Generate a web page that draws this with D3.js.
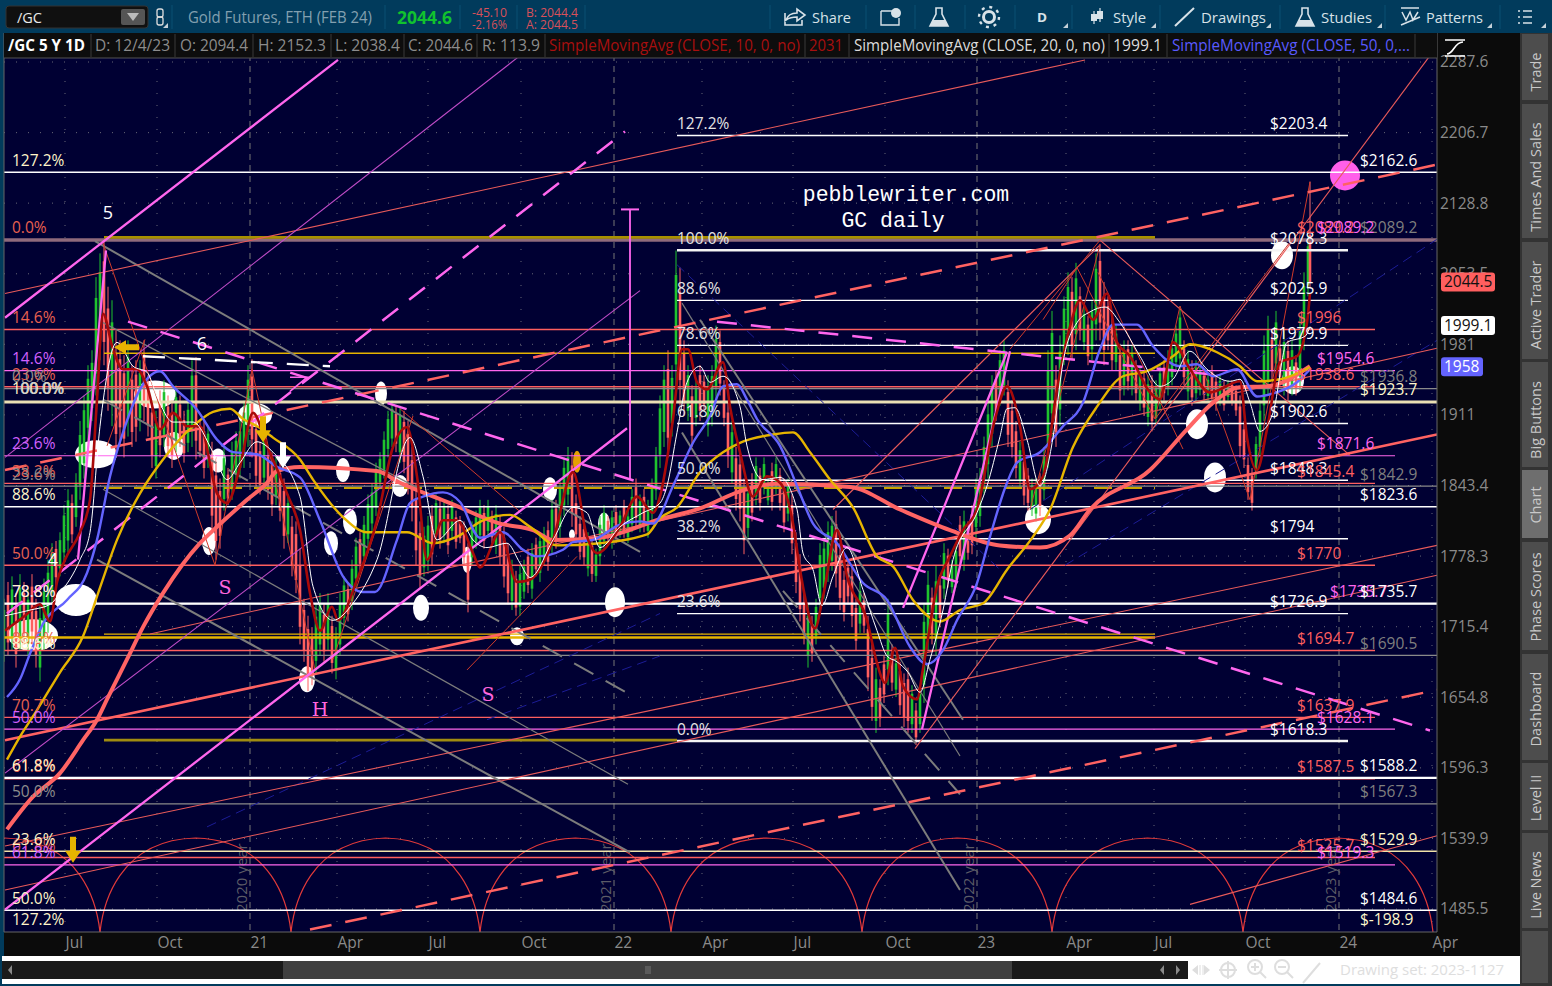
<!DOCTYPE html>
<html><head><meta charset="utf-8">
<style>html,body{margin:0;padding:0;background:#013b5c;overflow:hidden}svg{display:block}text{font-family:"Open Sans",sans-serif}</style>
<script src="https://cdn.jsdelivr.net/npm/d3@7"></script>
</head><body><svg id="c" width="1552" height="986"></svg>
<script>
// ---------- axis values ----------
const priceTicks=[2287.6,2206.7,2128.8,2053.5,1981,1911,1843.4,1778.3,1715.4,1654.8,1596.3,1539.9,1485.5];
const timeTicks=[0,92,185,272,363,456,549,637,728,820,912,1001,1089,1180,1274,1367];
const timeLabels=["Jul","Oct","21","Apr","Jul","Oct","22","Apr","Jul","Oct","23","Apr","Jul","Oct","24","Apr"];
const yearLines=[185,549,912,1274];
const yearNames=["2020 year","2021 year","2022 year","2023 year"];
const cycleFeet=[-156,35,226,415,606,797,987,1178,1368];

// ---------- daily range bars: [low, high, up] stepping 4 sessions ----------
const bars2020=[[1685,1740,1],[1690,1755,0],[1695,1760,1],[1680,1745,0],[1695,1762,1],[1700,1755,0],[1690,1750,1],[1700,1762,0],[1680,1740,0],[1668,1735,1],[1695,1758,1],[1710,1775,1],[1735,1790,1],[1752,1792,0],[1760,1800,1],[1772,1825,1],[1782,1840,1],[1790,1835,0],[1805,1855,1],[1830,1905,1],[1850,1930,1],[1885,1960,1],[1905,1975,1],[1930,2050,1],[1965,2075,1],[1960,2090,0],[1915,2040,0],[1900,2026,1],[1870,1995,0],[1880,1985,0],[1870,1970,0],[1890,1985,1],[1880,1960,0],[1885,1965,0],[1895,1965,1],[1905,1985,0],[1890,1950,0],[1860,1925,0],[1850,1915,1],[1870,1935,0],[1880,1945,1],[1870,1930,0],[1860,1925,0],[1875,1940,1],[1880,1930,0],[1865,1915,0],[1875,1925,1],[1880,1965,1],[1868,1968,0],[1870,1905,0],[1850,1905,0],[1860,1900,1],[1800,1885,0],[1775,1870,0],[1785,1850,0],[1820,1880,1],[1825,1860,0],[1830,1885,1],[1845,1895,1],[1850,1905,1],[1860,1925,1],[1880,1960,1]];
const bars2021=[[1870,1966,0],[1840,1910,0],[1835,1885,0],[1840,1900,1],[1830,1880,0],[1815,1875,0],[1825,1870,1],[1810,1865,0],[1785,1850,0],[1790,1835,1],[1760,1815,0],[1745,1810,0],[1700,1785,0],[1685,1740,0],[1660,1725,0],[1665,1715,0],[1675,1735,1],[1690,1745,1],[1685,1735,0],[1695,1745,1],[1675,1725,0],[1670,1715,1],[1690,1745,1],[1715,1760,1],[1720,1755,0],[1730,1775,1],[1750,1795,1],[1765,1800,0],[1770,1815,1],[1785,1835,1],[1800,1845,1],[1815,1865,1],[1840,1875,1],[1850,1895,1],[1870,1915,1],[1880,1925,1],[1875,1920,0],[1865,1920,1],[1855,1915,0],[1835,1905,0],[1810,1880,0],[1770,1845,0],[1750,1810,0],[1760,1805,1],[1765,1815,1],[1770,1825,0],[1790,1835,1],[1785,1830,0],[1790,1830,1],[1780,1825,0],[1795,1830,1],[1785,1820,0],[1790,1815,0],[1770,1810,0],[1728,1790,0],[1770,1810,1],[1785,1820,1],[1790,1830,1],[1785,1825,0],[1795,1830,1],[1790,1820,0],[1780,1825,1],[1770,1815,0],[1750,1805,0],[1735,1790,0],[1730,1775,1],[1725,1765,0],[1725,1770,1],[1740,1775,1],[1745,1785,0],[1740,1790,1],[1760,1795,0],[1755,1800,1],[1770,1805,1],[1765,1810,0],[1780,1830,1],[1785,1830,0],[1795,1850,1],[1815,1870,1],[1825,1880,1],[1805,1875,0],[1790,1835,0],[1775,1815,0],[1770,1810,0],[1760,1800,1],[1755,1795,0],[1755,1785,1],[1770,1815,1],[1785,1825,1],[1790,1815,0],[1785,1820,1]];
const bars2022=[[1790,1825,0],[1795,1820,1],[1795,1830,0],[1790,1820,1],[1800,1840,1],[1805,1850,0],[1800,1835,1],[1800,1840,0],[1795,1830,1],[1810,1850,1],[1830,1880,1],[1860,1930,1],[1880,1960,1],[1870,1975,0],[1890,1960,1],[1935,2078,1],[1920,2060,0],[1910,1985,0],[1905,1960,1],[1880,1940,0],[1900,1945,1],[1905,1960,0],[1915,1950,0],[1890,1950,1],[1900,1960,1],[1925,2000,1],[1930,1995,0],[1900,1945,0],[1860,1925,0],[1845,1905,1],[1820,1880,0],[1810,1875,0],[1780,1850,0],[1795,1845,1],[1810,1855,0],[1825,1870,1],[1820,1860,0],[1835,1870,1],[1825,1850,1],[1820,1865,0],[1835,1870,1],[1820,1860,0],[1800,1850,0],[1810,1850,1],[1780,1835,0],[1745,1800,0],[1720,1780,0],[1700,1745,0],[1680,1735,1],[1685,1725,0],[1700,1740,1],[1730,1790,1],[1740,1795,1],[1755,1810,1],[1765,1815,1],[1750,1820,0],[1730,1790,0],[1720,1765,0],[1735,1775,0],[1715,1770,0],[1695,1740,0],[1710,1755,1],[1710,1745,0],[1660,1725,0],[1635,1700,0],[1625,1680,1],[1630,1670,0],[1650,1690,0],[1665,1740,1],[1660,1700,0],[1655,1690,1],[1640,1685,0],[1630,1675,0],[1625,1680,0],[1625,1665,1],[1615,1650,0],[1625,1665,1],[1650,1735,1],[1695,1765,1],[1700,1750,0],[1690,1770,1],[1715,1760,0],[1740,1790,1],[1750,1785,0],[1745,1775,1],[1750,1790,1],[1770,1815,0],[1765,1820,1],[1775,1810,0],[1780,1825,0],[1795,1850,1],[1805,1860,1]];
const bars2023=[[1835,1890,1],[1850,1925,1],[1880,1950,1],[1905,1955,0],[1920,1975,1],[1930,1985,1],[1880,1945,0],[1870,1925,0],[1850,1905,0],[1840,1885,1],[1825,1875,0],[1820,1860,0],[1815,1850,1],[1810,1850,1],[1815,1855,0],[1830,1880,1],[1860,1975,1],[1890,2015,1],[1880,1960,0],[1900,1990,1],[1960,2030,1],[1970,2055,1],[1965,2050,0],[1975,2065,1],[1985,2040,0],[1975,2020,1],[1960,2010,0],[1965,2025,1],[1985,2075,1],[1985,2085,0],[1960,2045,0],[1975,2030,0],[1955,2010,0],[1955,2000,1],[1925,1980,0],[1930,1985,1],[1935,1985,0],[1930,1980,1],[1925,1965,0],[1915,1960,1],[1910,1955,0],[1900,1950,1],[1895,1950,0],[1900,1945,1],[1915,1960,1],[1925,1965,0],[1930,1975,1],[1940,1985,1],[1955,2000,1],[1955,2020,1],[1940,1985,0],[1925,1975,1],[1920,1965,0],[1925,1965,1],[1930,1960,1],[1925,1955,0],[1925,1950,1],[1920,1960,0],[1915,1950,0],[1920,1950,1],[1915,1945,0],[1925,1945,1],[1920,1945,0],[1910,1940,0],[1870,1930,0],[1860,1905,0],[1830,1870,0],[1820,1860,0],[1850,1890,1],[1870,1925,1],[1905,1990,1],[1930,2010,1],[1945,1995,0],[1950,2015,1],[1940,1985,0],[1930,1995,1],[1925,1985,0],[1930,1985,1],[1930,1970,0],[1935,2010,1],[1975,2055,1],[2030,2094,1]];
const barBlockStart=[-61,187,551,919];
const lastCandle=[1245,2094.4,2152.3,2038.4,2044.6];

// ---------- moving averages: [session, price] ----------
const sma10=[[-60,1712],[-40,1725],[-25,1735],[-15,1720],[-8,1755],[0,1775],[15,1800],[25,1830],[32,1926],[38,2012],[48,1976],[58,1956],[72,1956],[82,1939],[95,1897],[108,1913],[122,1900],[135,1900],[152,1836],[162,1827],[175,1861],[188,1913],[202,1881],[222,1836],[235,1802],[245,1745],[255,1712],[267,1733],[273,1721],[292,1757],[312,1811],[328,1880],[342,1899],[352,1852],[362,1775],[378,1811],[392,1811],[408,1781],[415,1768],[435,1800],[452,1755],[465,1757],[488,1793],[508,1856],[522,1796],[532,1781],[555,1805],[572,1833],[588,1818],[595,1833],[608,1907],[617,1976],[623,1976],[632,1943],[642,1936],[658,1963],[665,1919],[675,1875],[688,1833],[702,1852],[715,1846],[728,1808],[735,1766],[750,1714],[758,1742],[772,1802],[782,1760],[802,1721],[812,1684],[820,1667],[830,1697],[838,1664],[852,1653],[858,1679],[872,1751],[885,1778],[898,1802],[912,1821],[930,1907],[942,1939],[955,1900],[965,1840],[978,1852],[992,1936],[1005,1999],[1015,2026],[1028,2006],[1042,2033],[1052,1983],[1065,1969],[1085,1933],[1095,1926],[1108,1983],[1125,1956],[1145,1933],[1175,1944],[1182,1889],[1192,1858],[1202,1897],[1215,1963],[1232,1969],[1242,2003],[1245,2033]];
const sma20=[[-60,1725],[-35,1730],[-15,1735],[-5,1745],[15,1775],[25,1800],[35,1900],[52,1983],[68,1959],[82,1953],[92,1929],[108,1904],[128,1904],[148,1875],[162,1849],[175,1865],[192,1885],[208,1875],[235,1833],[248,1751],[268,1721],[288,1736],[312,1775],[345,1889],[358,1852],[372,1793],[395,1811],[408,1793],[422,1786],[442,1790],[455,1772],[465,1759],[488,1793],[508,1823],[522,1818],[535,1786],[555,1805],[578,1818],[595,1827],[602,1843],[612,1894],[622,1943],[635,1959],[645,1943],[658,1949],[675,1919],[682,1881],[698,1849],[715,1851],[732,1821],[738,1781],[748,1766],[757,1734],[768,1760],[782,1786],[798,1748],[812,1712],[822,1690],[832,1685],[843,1676],[855,1659],[865,1687],[878,1730],[888,1775],[912,1818],[922,1843],[935,1890],[942,1917],[950,1918],[962,1887],[975,1843],[988,1889],[998,1963],[1012,2003],[1025,2014],[1040,2019],[1055,2003],[1075,1969],[1095,1939],[1108,1946],[1125,1974],[1142,1956],[1165,1944],[1175,1946],[1185,1923],[1195,1895],[1208,1913],[1222,1983],[1240,1989],[1245,1999]];
const sma50=[[-58,1655],[-45,1670],[-35,1692],[-22,1718],[2,1739],[22,1763],[32,1793],[45,1852],[58,1894],[75,1936],[95,1954],[108,1939],[132,1916],[152,1887],[168,1875],[192,1873],[212,1861],[235,1851],[255,1811],[278,1760],[298,1746],[310,1746],[332,1793],[345,1827],[358,1833],[378,1837],[395,1828],[415,1795],[438,1800],[458,1784],[472,1778],[498,1784],[508,1791],[528,1793],[555,1807],[575,1810],[588,1808],[608,1843],[628,1884],[645,1910],[658,1939],[672,1941],[682,1926],[692,1907],[715,1881],[732,1843],[748,1808],[772,1790],[798,1754],[822,1739],[845,1698],[862,1683],[878,1695],[892,1721],[912,1754],[925,1796],[942,1846],[952,1865],[975,1875],[998,1900],[1018,1923],[1035,1976],[1048,2001],[1072,2001],[1088,1979],[1115,1959],[1132,1961],[1148,1949],[1172,1956],[1192,1929],[1208,1932],[1232,1943],[1245,1956]];
const sma100=[[-58,1603],[-45,1622],[-28,1644],[-5,1676],[18,1707],[35,1750],[52,1793],[75,1836],[98,1868],[128,1900],[148,1914],[165,1917],[178,1907],[192,1900],[208,1889],[235,1868],[248,1849],[278,1814],[302,1800],[342,1800],[368,1790],[392,1796],[418,1811],[445,1816],[465,1805],[492,1788],[535,1790],[582,1798],[595,1813],[612,1823],[635,1856],[658,1875],[675,1884],[708,1892],[728,1894],[745,1875],[765,1849],[788,1823],[812,1778],[828,1769],[848,1739],[875,1720],[895,1730],[918,1736],[942,1766],[968,1796],[985,1821],[1008,1880],[1032,1919],[1058,1949],[1082,1954],[1108,1969],[1125,1981],[1152,1973],[1175,1959],[1192,1944],[1215,1946],[1245,1958]];
const sma200=[[-58,1547],[-32,1573],[-5,1592],[18,1619],[32,1636],[42,1653],[62,1687],[78,1715],[98,1745],[135,1790],[152,1805],[182,1830],[202,1846],[212,1857],[235,1861],[312,1857],[335,1846],[385,1827],[435,1808],[468,1802],[488,1793],[535,1795],[595,1812],[635,1822],[675,1838],[710,1845],[785,1842],[835,1821],[885,1802],[935,1788],[975,1786],[1005,1797],[1025,1821],[1085,1858],[1122,1897],[1148,1923],[1175,1938],[1202,1939],[1245,1959]];

// ---------- price levels ----------
const centerFib=[2203.4,2078.3,2025.9,1979.9,1902.6,1848.3,1794,1726.9,1618.3];
const centerPct=["127.2%","100.0%","88.6%","78.6%","61.8%","50.0%","38.2%","23.6%","0.0%"];
const centerCost=["$2203.4","$2078.3","$2025.9","$1979.9","$1902.6","$1848.3","$1794","$1726.9","$1618.3"];
const redLevels=[1996,1938.6,1845.4,1770,1694.7,1637.9,1587.5,1525];
const redText=["$1996","$1938.6","$1845.4","$1770","$1694.7","$1637.9","$1587.5","$1525.7"];
const pinkLevels=[1954.6,1871.6,1628.1,1519.3];
const pinkText=["$1954.6","$1871.6","$1628.1","$1519.3"];
const greyLevels=[2089.2,1936.8,1842.9,1690.5,1567.3];
const greyText=["$2089.2","$1936.8","$1842.9","$1690.5","$1567.3"];
const whiteLevels=[2162.6,1823.6,1735.7,1588.2,1484.6];
const whiteText=["$2162.6","$1823.6","$1735.7","$1588.2","$1484.6"];
const goldThin=[1972,1709];
const paleGold=1529.9;
const goldThick=1706, oliveTop=2092, oliveLow=1619, goldDash=1841, creamLevel=1923.7, mauveLevel=2089.2;
const pctWhite=[[2162.6,"127.2%"],[1823.6,"88.6%"],[1735.7,"78.8%"],[1690.5,"88.6%"],[1588.2,"61.8%"],[1529.9,"23.6%"],[1484.6,"50.0%"],[1468.3,"127.2%"]];
const pctRed=[[2089.2,"0.0%"],[1996,"14.6%"],[1938.6,"23.6%"],[1845.4,"38.2%"],[1770,"50.0%"],[1694.7,"88.6%"],[1637.9,"70.7%"],[1587.5,"61.8%"],[1525,"61.8%"]];
const pctPink=[[1954.6,"14.6%"],[1871.6,"23.6%"],[1735.7,"78.8%"],[1628.1,"50.0%"],[1519.3,"61.8%"]];
const pctGrey=[[1936.8,"0.0%"],[1842.9,"23.6%"],[1567.3,"50.0%"]];

// ---------- drawn lines: [session, price] ends ----------
const pinkSolid=[[[-60,2008],[273,2290]],[[-60,1485],[562,1898]],[[13,1775],[41,2078]],[[838,1732],[942,1973]],[[857,1628],[945,1974]]];
const pinkThin=[[[-60,1870],[455,2295]],[[-60,1592],[575,2036]]];
const pinkDashed=[[[-58,1727],[560,2208]],[[63,2004],[1365,1627]],[[652,2004],[1145,1951]]];
const pinkMark=[[225,1948],[242,1948],[225,1934]];
const measure=[[565,2122],[565,1849]];
const whiteDash=[[78,1969],[265,1959]];
const greyThick=[[[30,2088],[575,1782]],[[32,1775],[565,1529]],[[635,2006],[898,1636]],[[617,1894],[895,1500]]];
const greyThin=[[[38,1840],[563,1583]],[[38,2003],[355,1840]],[[617,2023],[895,1606]]];
const greyDashed=[[[38,1926],[563,1658]],[[718,1747],[895,1575]]];
const salmonThick=[[[-60,1619],[1372,1892]]];
const salmonDashed=[[[-60,1858],[1372,2171]],[[245,1470],[1372,1661]]];
const salmonThin=[[[-60,2033],[1020,2290]],[[-60,1534],[1372,1788]],[[-60,1500],[1372,1761]],[[85,1709],[1372,1977]],[[1125,1489],[1372,1542]],[[850,1612],[1365,2295]],[[768,1821],[1035,2084]],[[1035,2089],[1285,1872]]];
const redThin=[[[38,2086],[150,1770]],[[150,1770],[187,1956]],[[42,1881],[80,1986]],[[187,1956],[250,1678]],[[268,1687],[348,1910]],[[335,1917],[455,1819]],[[402,1678],[512,1778]],[[1012,2060],[1090,1907]],[[1033,2055],[1118,1878]],[[1090,1907],[1225,2087]],[[1090,1907],[1115,2020]],[[978,2006],[1012,2060]],[[1115,2020],[1185,1830]],[[1185,1830],[1245,2152]],[[945,1976],[1035,2089]],[[965,1821],[1035,2084]]];
const blueThin=[[[612,2063],[935,1766]],[[965,1821],[1372,2090]],[[1000,1770],[1372,1985]],[[142,1549],[595,1727]],[[422,1636],[595,1690]]];

// ---------- markers ----------
const blobDay=[31,90,109,153,144,190,11,-32,278,285,266,335,316,356,402,485,550,452,242,973,1132,1150,1217,1228,539,507];
const blobPrice=[1873,1931,1881,1867,1792,1911,1739,1708,1858,1810,1790,1843,1932,1732,1775,1840,1737,1707,1670,1812,1902,1851,2073,1945,1808,1798];
const blobWide=[21,21,10,8,7,17,21,25,7,7,7,8,6,8,5,7,10,7,8,13,11,11,11,11,6,3];
const blobTall=[14,14,14,12,14,12,16,16,12,13,12,11,12,13,13,12,15,9,13,15,15,15,14,14,11,5];
const amberBlob=[512,1866];
const target=[1280,2159];
const arrowSpots=[[61,1978,"left","#e6b400"],[198,1897,"down","#e6b400"],[218,1872,"down","#ffffff"],[8,1531,"down","#e6b400"]];
const waveLabels=[[43,2112,"5","#ffffff",18],[137,1975,"6","#ffffff",18],[-12,1769,"4","#ffffff",18],[255,1639,"H","#ff66dd",19],[160,1744,"S","#ff66dd",19],[423,1652,"S","#ff66dd",19]];

// ---------- header texts ----------
const sideTabs=["Trade","Times And Sales","Active Trader","Big Buttons","Chart","Phase Scores","Dashboard","Level II","Live News",""];
const tabTops=[34,104,242,362,470,542,654,763,833,931];
const tabBottoms=[100,238,359,467,538,650,760,830,928,983];
const tabCentres=[72,177,305,420,505,597,709,798,885,955];
const headerCells=[["/GC 5 Y 1D",8,77,"#fff",1],["D: 12/4/23",95,75,"#8c8c8c"],["O: 2094.4",180,68,"#8c8c8c"],["H: 2152.3",258,68,"#8c8c8c"],["L: 2038.4",335,65,"#8c8c8c"],["C: 2044.6",408,65,"#8c8c8c"],["R: 113.9",482,58,"#8c8c8c"],["SimpleMovingAvg (CLOSE, 10, 0, no)",549,251,"#a80f0f"],["2031",809,34,"#a80f0f"],["SimpleMovingAvg (CLOSE, 20, 0, no)",854,251,"#dcdcdc"],["1999.1",1113,49,"#dcdcdc"],["SimpleMovingAvg (CLOSE, 50, 0,...",1172,238,"#5a5aff"]];
const headerSeps=[91,175,253,331,404,477,545,805,849,1109,1167,1415];

// ---------- scales ----------
const svg=d3.select("#c");
const X=d3.scaleLinear().domain([-61,1372]).range([4,1437]);
const Y=d3.scaleLog().domain([1485.5,2287.6]).range([909,62]);
const defs=svg.append("defs");
defs.append("clipPath").attr("id","pc").append("rect").attr("x",4).attr("y",33).attr("width",1433).attr("height",899);

svg.append("rect").attr("width",1552).attr("height",986).attr("fill","#013b5c");
svg.append("rect").attr("x",1437).attr("y",33).attr("width",85).attr("height",923).attr("fill","#0b0b0b");
svg.append("rect").attr("x",4).attr("y",932).attr("width",1518).attr("height",24).attr("fill","#0b0b0b");
svg.append("rect").attr("x",4).attr("y",33).attr("width",1433).attr("height",899).attr("fill","#000033");
const P=svg.append("g").attr("clip-path","url(#pc)");

// grid
P.append("g").selectAll("line").data(timeTicks).join("line").attr("x1",d=>X(d)).attr("x2",d=>X(d)).attr("y1",33).attr("y2",932)
 .attr("stroke",d=>yearLines.includes(d)?"#777":"#667").attr("stroke-width",1).attr("stroke-dasharray",d=>yearLines.includes(d)?"6 5":"1 11");
P.append("g").selectAll("line").data(priceTicks).join("line").attr("x1",4).attr("x2",1437).attr("y1",d=>Y(d)).attr("y2",d=>Y(d))
 .attr("stroke","#667").attr("stroke-dasharray","1 11");
P.append("g").selectAll("text").data(yearLines).join("text").attr("transform",(d,i)=>`translate(${X(d)-3},912) rotate(-90)`)
 .text((d,i)=>yearNames[i]).attr("font-size",15).attr("fill","#5c5c66");

// cycles
P.append("g").selectAll("path").data(d3.pairs(cycleFeet)).join("path")
 .attr("d",([a,b])=>`M${X(a)},932 C${X(a)+3},905 ${X(a)+18},840 ${(X(a)+X(b))/2},838 C${X(b)-18},840 ${X(b)-3},905 ${X(b)},932`)
 .attr("fill","none").attr("stroke","#e23a3a").attr("stroke-width",1.2);

// blobs
P.append("g").selectAll("ellipse").data(blobDay).join("ellipse").attr("cx",d=>X(d)).attr("cy",(d,i)=>Y(blobPrice[i]))
 .attr("rx",(d,i)=>blobWide[i]).attr("ry",(d,i)=>blobTall[i]).attr("fill","#ffffff");
P.append("ellipse").attr("cx",X(amberBlob[0])).attr("cy",Y(amberBlob[1])).attr("rx",4).attr("ry",11).attr("fill","#e6a000");
P.append("circle").attr("cx",X(target[0])).attr("cy",Y(target[1])).attr("r",15).attr("fill","#ff5fea");

// bars
const blocks=[bars2020,bars2021,bars2022,bars2023];
blocks.forEach((b,k)=>{
  const g=P.append("g");
  const tOf=i=>barBlockStart[k]+i*4;
  g.selectAll("line").data(b).join("line").attr("x1",(d,i)=>X(tOf(i))).attr("x2",(d,i)=>X(tOf(i)))
    .attr("y1",d=>Y(d[0])).attr("y2",d=>Y(d[1])).attr("stroke",d=>d[2]?"#1fc32e":"#ff5f5f").attr("stroke-width",1);
  g.selectAll("rect").data(b).join("rect").attr("x",(d,i)=>X(tOf(i))-1.3).attr("width",2.6)
    .attr("y",d=>Y(d[0]+(d[1]-d[0])*.82)).attr("height",d=>Y(d[0]+(d[1]-d[0])*.18)-Y(d[0]+(d[1]-d[0])*.82))
    .attr("fill",d=>d[2]?"#1fc32e":"#ff5f5f");
});
P.append("line").attr("x1",X(lastCandle[0])).attr("x2",X(lastCandle[0])).attr("y1",Y(lastCandle[2])).attr("y2",Y(lastCandle[3])).attr("stroke","#ff6f6f");
P.append("rect").attr("x",X(lastCandle[0])-1.3).attr("width",2.6).attr("y",Y(lastCandle[1])).attr("height",Y(lastCandle[4])-Y(lastCandle[1])).attr("fill","#ff5f5f");

// levels
function hl(vals,x1,x2,color,w,dash){
  P.append("g").selectAll("line").data(vals).join("line").attr("x1",x1).attr("x2",x2).attr("y1",d=>Y(d)).attr("y2",d=>Y(d))
   .attr("stroke",color).attr("stroke-width",w).attr("stroke-dasharray",dash||null);
}
hl([mauveLevel],4,1437,"#8f6a7c",3.5);
hl([oliveTop],104,1155,"#a89000",2.6);
hl([goldThick],4,1155,"#e6b400",2.6);
hl(goldThin,104,1155,"#e6b400",1.3);
hl([paleGold],4,1437,"#f0e2a8",1.4);
hl([oliveLow],104,677,"#a08c10",2.8);
hl([goldDash],104,1155,"#c9a400",2,"18 12");
hl(greyLevels.slice(1),4,1437,"#8a8a8a",1.2);
hl(redLevels,4,1375,"#ff5f5f",1.4);
hl(pinkLevels,4,1395,"#ff66ee",1.2);
hl(whiteLevels,4,1437,"#ffffff",1.4);
hl([1735.7,1588.2],4,1437,"#ffffff",2.2);
hl(centerFib,677,1348,"#ffffff",1.4);
hl([2078.3,1618.3],677,1348,"#f4f4f4",2.6);
hl([creamLevel],4,1437,"#eadfb4",3);

// trend lines
const ln=d3.line().x(d=>X(d[0])).y(d=>Y(d[1]));
function tl(set,color,w,dash){
  P.append("g").selectAll("path").data(set).join("path").attr("d",ln).attr("fill","none").attr("stroke",color)
   .attr("stroke-width",w).attr("stroke-dasharray",dash||null);
}
tl(blueThin,"#1c1c96",1,"10 6");
tl(greyThin,"#7c7c7c",1.2);
tl(greyThick,"#7c7c7c",2);
tl(greyDashed,"#7c7c7c",2,"22 14");
tl(salmonThin,"#e85a5a",1.1);
tl(redThin,"#cf3a2a",1);
tl(salmonThick,"#ff6262",2.6);
tl(salmonDashed,"#ff6262",2.5,"22 14");
tl(pinkThin,"#c04cc8",1.1);
tl(pinkSolid,"#ff66ee",2.3);
tl(pinkDashed,"#ff66ee",2.5,"20 14");
tl([pinkMark],"#ff66ee",1.6);
tl([measure],"#ff66ee",1.8);
P.append("line").attr("x1",X(measure[0][0])-9).attr("x2",X(measure[0][0])+9).attr("y1",Y(measure[0][1])).attr("y2",Y(measure[0][1])).attr("stroke","#ff66ee").attr("stroke-width",2);
tl([whiteDash],"#ffffff",2.4,"22 14");

// moving averages
const cv=d3.line().x(d=>X(d[0])).y(d=>Y(d[1])).curve(d3.curveMonotoneX);
function ma(data,color,w){P.append("path").attr("d",cv(data)).attr("fill","none").attr("stroke",color).attr("stroke-width",w);}
ma(sma200,"#ff6464",4);
ma(sma100,"#e6b400",2.4);
ma(sma50,"#6464ff",2.4);
ma(sma10,"#a80a0a",2.6);
ma(sma20,"#ffffff",1);

// arrows
const shapes={left:"M-12,0 L0,-7 V-3 H13 V3 H0 V7 Z",down:"M-3,-13 H3 V1 H8 L0,13 L-8,1 H-3 Z"};
P.append("g").selectAll("path").data(arrowSpots).join("path").attr("transform",d=>`translate(${X(d[0])},${Y(d[1])})`)
 .attr("d",d=>shapes[d[2]]).attr("fill",d=>d[3]);

// labels in the plot
const F=P.append("g").attr("font-size",15.5);
function lab(vals,txt,x,color){
  F.append("g").selectAll("text").data(vals).join("text").attr("x",x).attr("y",d=>Y(d)-6.5).text((d,i)=>txt[i]).attr("fill",color);
}
lab(centerFib,centerPct,677,"#e4e4e4");
lab(centerFib,centerCost,1270,"#ffffff");
lab(redLevels,redText,1297,"#ff5f5f");
lab(pinkLevels,pinkText,1317,"#ff66ee");
lab(greyLevels,greyText,1360,"#7f7f7f");
lab([2089.2],["$2089.2"],1297,"#ff5f5f");
lab([2089.2],["$2089.2"],1317,"#ff66ee");
lab([1735.7],["$1735.7"],1330,"#ff66ee");
lab(whiteLevels,whiteText,1360,"#ffffff");
lab([1923.7],["$1923.7"],1360,"#fff8cc");
lab([1529.9],["$1529.9"],1360,"#fff8cc");
lab([1468.3],["$-198.9"],1360,"#fff8cc");
[[pctRed,"#e8604f"],[pctPink,"#d060ff"],[pctGrey,"#8d8d8d"],[pctWhite,"#fff4c8"]].forEach(([arr,c])=>{
  F.append("g").selectAll("text").data(arr).join("text").attr("x",12).attr("y",d=>Y(d[0])-6.5).text(d=>d[1]).attr("fill",c);
});
F.append("text").attr("x",12).attr("y",Y(1923.7)-8).text("100.0%").attr("fill","#fff4c8");
F.append("text").attr("x",20).attr("y",Y(1923.7)-8).text("00.0%").attr("fill","#cfcfcf");
P.append("g").selectAll("text").data(waveLabels).join("text").attr("x",d=>X(d[0])).attr("y",d=>Y(d[1])).text(d=>d[2]).attr("fill",d=>d[3]).attr("font-size",d=>d[4]).attr("text-anchor","middle").style("font-family",d=>"H S".includes(d[2])?"'DejaVu Serif',serif":null);
P.append("text").attr("x",906).attr("y",201).attr("text-anchor","middle").text("pebblewriter.com").attr("fill","#fff").style("font-family","'Liberation Mono',monospace").attr("font-size",21.5);
P.append("text").attr("x",893).attr("y",227).attr("text-anchor","middle").text("GC daily").attr("fill","#fff").style("font-family","'Liberation Mono',monospace").attr("font-size",21.5);

// axes
const axY=d3.axisRight(Y).tickValues(priceTicks).tickFormat(d=>d).tickSize(0).tickPadding(3);
const gy=svg.append("g").attr("transform","translate(1437,0)").call(axY);
gy.select(".domain").attr("stroke","#666").attr("d","M0,33V932");
gy.selectAll("text").attr("fill","#8a8a8a").attr("font-size",15.5).style("font-family","'Open Sans'");
const axX=d3.axisBottom(X).tickValues(timeTicks).tickFormat((d,i)=>timeLabels[i]).tickSize(0).tickPadding(5);
const gx=svg.append("g").attr("transform","translate(0,932)").call(axX);
gx.select(".domain").attr("stroke","#666").attr("d","M4,0H1437");
gx.selectAll("text").attr("fill","#8a8a8a").attr("font-size",15.5).attr("text-anchor","start").style("font-family","'Open Sans'");
svg.append("line").attr("x1",4).attr("x2",4).attr("y1",33).attr("y2",932).attr("stroke","#666");

// price flags
function flag(y,w,txt,bg,fg){
  svg.append("rect").attr("x",1441).attr("y",y-9.5).attr("width",w).attr("height",19).attr("rx",3).attr("fill",bg);
  svg.append("text").attr("x",1444).attr("y",y+5.5).text(txt).attr("font-size",15.5).attr("fill",fg);
}
flag(Y(2044.5)-.5,54,"2044.5","#ff5f5f","#111");
flag(Y(1999.1)-1,54,"1999.1","#ffffff","#111");
flag(Y(1958)-.5,42,"1958","#6464ff","#fff");

// header strip
svg.append("rect").attr("x",4).attr("y",33).attr("width",1433).attr("height",25).attr("fill","#0d0d0d");
svg.append("line").attr("x1",4).attr("x2",1437).attr("y1",58).attr("y2",58).attr("stroke","#555");
svg.append("g").selectAll("line").data(headerSeps).join("line").attr("x1",d=>d).attr("x2",d=>d).attr("y1",34).attr("y2",57).attr("stroke","#3a3a3a");
svg.append("g").selectAll("text").data(headerCells).join("text").attr("x",d=>d[1]).attr("y",51).text(d=>d[0]).attr("fill",d=>d[3])
  .attr("font-size",15.5).attr("font-weight",d=>d[4]?700:400).attr("textLength",d=>d[2]).attr("lengthAdjust","spacingAndGlyphs");
svg.append("path").attr("d","M1445,40 H1465 M1445,56 H1465 M1447,54 C1454,54 1454,42 1463,42").attr("stroke","#fff").attr("fill","none").attr("stroke-width",1.6);

// toolbar
const tb=svg.append("g");
tb.append("rect").attr("x",6).attr("y",6).attr("width",142).attr("height",22).attr("rx",3).attr("fill","#101010").attr("stroke","#333");
tb.append("rect").attr("x",121).attr("y",9).attr("width",24).attr("height",16).attr("rx",2).attr("fill","#555");
tb.append("path").attr("d","M127,13 H139 L133,21 Z").attr("fill","#bbb");
tb.append("rect").attr("x",157).attr("y",9).attr("width",6).attr("height",8).attr("rx",2).attr("fill","none").attr("stroke","#ddd").attr("stroke-width",1.3);
tb.append("rect").attr("x",157).attr("y",17).attr("width",6).attr("height",8).attr("rx",2).attr("fill","none").attr("stroke","#ddd").attr("stroke-width",1.3);
const tbT=[["/GC",17,23,25,"#eaeaea",15],["Gold Futures, ETH (FEB 24)",188,23,184,"#83a0b0",15.5],["2044.6",397,24,55,"#11c22e",18,700],["-45.10",472,17,35,"#d8505a",13],["-2.16%",472,29,35,"#d8505a",13],["B: 2044.4",526,17,52,"#d8505a",13],["A: 2044.5",526,29,52,"#d8505a",13],["Share",812,23,39,"#d8e2e8",15],["D",1037,22,10,"#d8e2e8",13,700],["Style",1113,23,33,"#d8e2e8",15],["Drawings",1201,23,65,"#d8e2e8",15],["Studies",1321,23,51,"#d8e2e8",15],["Patterns",1426,23,57,"#d8e2e8",15]];
tb.selectAll("text").data(tbT).join("text").attr("x",d=>d[1]).attr("y",d=>d[2]).text(d=>d[0]).attr("fill",d=>d[4]).attr("font-size",d=>d[5]).attr("font-weight",d=>d[6]||400).attr("textLength",d=>d[3]).attr("lengthAdjust","spacingAndGlyphs");
tb.selectAll("line.sep").data([172,385,460,517,585,770,866,915,965,1015,1072,1160,1280,1385,1500]).join("line").attr("class","sep").attr("x1",d=>d).attr("x2",d=>d).attr("y1",5).attr("y2",29).attr("stroke","#0b5072");
const ic="#d8e2e8";
tb.append("path").attr("d","M785,13 V25 H802 V20 M786,20 C788,14 793,13 797,13 V9 L805,15 L797,21 V17 C792,17 789,18 786,20 Z").attr("fill","none").attr("stroke",ic).attr("stroke-width",1.6);
tb.append("path").attr("d","M881,11 H896 M881,11 V25 H899 V18").attr("fill","none").attr("stroke",ic).attr("stroke-width",1.4);
tb.append("circle").attr("cx",896).attr("cy",13).attr("r",5).attr("fill",ic);
[[939,8],[1305,8]].forEach(([x,y])=>{
  tb.append("path").attr("d",`M${x-3},${y} H${x+3} V${y+6} L${x+9},${y+18} H${x-9} L${x-3},${y+6} Z`).attr("fill","none").attr("stroke",ic).attr("stroke-width",1.6);
  tb.append("path").attr("d",`M${x-6},${y+12} H${x+6} L${x+9},${y+18} H${x-9} Z`).attr("fill",ic);
});
tb.append("circle").attr("cx",989).attr("cy",17).attr("r",5.5).attr("fill","none").attr("stroke",ic).attr("stroke-width",3);
tb.append("circle").attr("cx",989).attr("cy",17).attr("r",10).attr("fill","none").attr("stroke",ic).attr("stroke-width",2.4).attr("stroke-dasharray","3 4.85");
tb.append("path").attr("d","M1094,11 V24 M1100,8 V22").attr("stroke",ic).attr("stroke-width",1.2);
tb.append("rect").attr("x",1091).attr("y",14).attr("width",6).attr("height",7).attr("fill",ic);
tb.append("rect").attr("x",1097).attr("y",11).attr("width",6).attr("height",8).attr("fill",ic);
tb.append("line").attr("x1",1175).attr("y1",26).attr("x2",1194).attr("y2",8).attr("stroke",ic).attr("stroke-width",2);
tb.append("path").attr("d","M1401,8 H1419 M1402,12 L1406,20 L1410,12 L1413,20 L1418,12 M1401,25 L1420,17").attr("fill","none").attr("stroke",ic).attr("stroke-width",1.5);
tb.append("path").attr("d","M1523,11 H1532 M1523,17 H1532 M1523,23 H1532 M1518,11 H1520 M1518,17 H1520 M1518,23 H1520").attr("stroke",ic).attr("stroke-width",1.6);
tb.selectAll("path.cor").data([168,1068,1156,1271,1382,1492,1546]).join("path").attr("class","cor").attr("d",d=>`M${d},28 h-5 l5,-5 Z`).attr("fill","#c4d0d8");

// side tabs
svg.append("rect").attr("x",1520).attr("y",33).attr("width",32).attr("height",953).attr("fill","#333");
sideTabs.forEach((t,i)=>{
  svg.append("rect").attr("x",1522).attr("y",tabTops[i]).attr("width",26).attr("height",tabBottoms[i]-tabTops[i]).attr("fill",t=="Chart"?"#6e6e6e":"#4d4d4d");
  svg.append("text").attr("transform",`translate(1541,${tabCentres[i]}) rotate(-90)`).attr("text-anchor","middle").text(t).attr("font-size",14.5).attr("fill","#c9c9c9");
});

// scroller
svg.append("rect").attr("x",2).attr("y",956).attr("width",1518).attr("height",28).attr("fill","#ffffff");
svg.append("rect").attr("x",2).attr("y",961).attr("width",1186).attr("height",18).attr("fill","#1a1a1a");
svg.append("rect").attr("x",283).attr("y",961).attr("width",729).attr("height",18).attr("fill","#404040");
svg.append("path").attr("d","M8,970 l4,-5 v10 Z M1160,970 l4,-5 v10 Z M1180,970 l-4,-5 v10 Z").attr("fill","#8a8a8a");
svg.append("path").attr("d","M646,966 v8 M648,966 v8 M650,966 v8").attr("stroke","#777");
const fade="#dedede";
svg.append("path").attr("d","M1192,970 l6,-5 v10 Z M1210,970 l-6,-5 v10 Z").attr("fill",fade);
svg.append("path").attr("d","M1200,965 v10 M1203,965 v10").attr("stroke",fade);
svg.append("g").attr("fill","none").attr("stroke",fade).attr("stroke-width",2).call(g=>{
  g.append("circle").attr("cx",1228).attr("cy",970).attr("r",7);
  g.append("path").attr("d","M1219,970 H1237 M1228,961 V979");
  g.append("circle").attr("cx",1255).attr("cy",967).attr("r",7);
  g.append("path").attr("d","M1260,972 L1266,978 M1251,967 H1259 M1255,963 V971");
  g.append("circle").attr("cx",1282).attr("cy",967).attr("r",7);
  g.append("path").attr("d","M1287,972 L1293,978 M1278,967 H1286");
  g.append("path").attr("d","M1303,983 L1320,963");
});
svg.append("text").attr("x",1340).attr("y",975).text("Drawing set: 2023-1127").attr("fill",fade).attr("font-size",15);
</script></body></html>
